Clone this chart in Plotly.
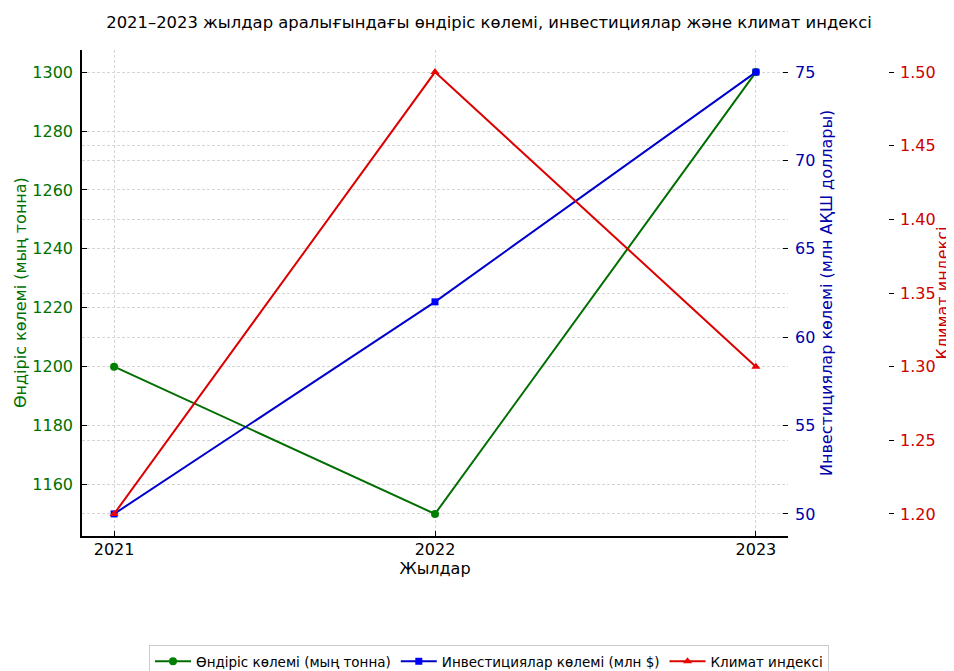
import plotly.graph_objects as go

years = [2021, 2022, 2023]
production = [1200, 1150, 1300]
investment = [50, 62, 75]
climate = [1.20, 1.50, 1.30]

title_text = "2021–2023 жылдар аралығындағы өндіріс көлемі, инвестициялар және климат индексі"
names = ["Өндіріс көлемі (мың тонна)", "Инвестициялар көлемі (млн $)", "Климат индексі"]
ytitles = ["Өндіріс көлемі (мың тонна)", "Инвестициялар көлемі (млн АҚШ доллары)", "Климат индексі"]

# page body has an 8px margin: figure origin is at (8, 8) of the window
OFF = 8
W, H = 954 - OFF, 671 - OFF
L, R = 82 - OFF, 788 - OFF
T, B = 50 - OFF, 536 - OFF
font = "DejaVu Sans"
green_t, blue_t, red_t = "#007000", "#0000aa", "#cc0000"
grid = dict(showgrid=True, gridcolor="#d6d6d6", griddash="3px,2px", gridwidth=0.8)

fig = go.Figure()
fig.add_trace(go.Scatter(x=years, y=production, name=names[0], mode="lines+markers",
                         line=dict(color="#006e00", width=2),
                         marker=dict(symbol="circle", size=8, color="#008000"), yaxis="y"))
fig.add_trace(go.Scatter(x=years, y=investment, name=names[1], mode="lines+markers",
                         line=dict(color="#0000cc", width=2),
                         marker=dict(symbol="square", size=7, color="#0000ff"), yaxis="y2"))
fig.add_trace(go.Scatter(x=years, y=climate, name=names[2], mode="lines+markers",
                         line=dict(color="#dd0000", width=2),
                         marker=dict(symbol="triangle-up", size=8, color="#ee0000"), yaxis="y3"))

fig.update_layout(
    width=W, height=H,
    margin=dict(l=0, r=0, t=T, b=H - B, autoexpand=False),
    paper_bgcolor="white", plot_bgcolor="white",
    font=dict(family=font, size=16, color="black"),
    title=dict(text=title_text, x=(489 - OFF) / W, xanchor="center", y=1 - (22 - OFF) / H,
               yanchor="middle", font=dict(size=16.4, color="black")),
    xaxis=dict(domain=[L / W, R / W], range=[2020.9, 2023.1], tickvals=years,
               ticks="inside", ticklen=5, tickcolor="black", showline=True, linecolor="black",
               linewidth=1.5, mirror=False, zeroline=False, ticklabelstandoff=-2,
               title=dict(text="Жылдар", font=dict(size=16), standoff=2),
               automargin=False, **grid),
    yaxis=dict(domain=[0, 1], range=[1142.5, 1307.5], dtick=20, tick0=1160,
               ticks="inside", ticklen=5, tickcolor="black", showline=True, linecolor="black",
               linewidth=1.5, zeroline=False, tickfont=dict(color=green_t, size=16),
               ticklabelstandoff=4, automargin=False, **grid),
    yaxis2=dict(range=[48.75, 76.25], dtick=5, tick0=50, overlaying="y", side="right", anchor="x",
                ticks="inside", ticklen=5, tickcolor="black", showline=False, zeroline=False,
                tickfont=dict(color=blue_t, size=16), ticklabelstandoff=6,
                automargin=False, **grid),
    yaxis3=dict(range=[1.185, 1.515], dtick=0.05, tick0=1.2, tickformat=".2f", overlaying="y",
                side="right", anchor="free", position=(894 - OFF) / W,
                ticks="inside", ticklen=5, tickcolor="black", showline=False, zeroline=False,
                tickfont=dict(color=red_t, size=16), ticklabelstandoff=5,
                automargin=False, **grid),
    legend=dict(orientation="h", x=(489 - OFF) / W, xanchor="center",
                y=-(645 - 536) / (B - T), yanchor="top",
                bordercolor="#cccccc", borderwidth=1, font=dict(size=13.5), bgcolor="white",
                itemwidth=36, entrywidth=0),
    showlegend=True,
)

for txt, px, col in [(ytitles[0], 20, green_t), (ytitles[1], 826, blue_t)]:
    fig.add_annotation(text=txt, textangle=-90, showarrow=False, xref="paper", yref="paper",
                       x=(px - OFF) / W, y=0.5, xanchor="center", yanchor="middle",
                       font=dict(color=col, size=16))
fig.add_annotation(text=ytitles[2], textangle=-90, showarrow=False, xref="paper", yref="paper",
                   x=1, y=0.5, xanchor="right", yanchor="middle", xshift=-1,
                   font=dict(color=red_t, size=16))

fig.write_html("out.html")
